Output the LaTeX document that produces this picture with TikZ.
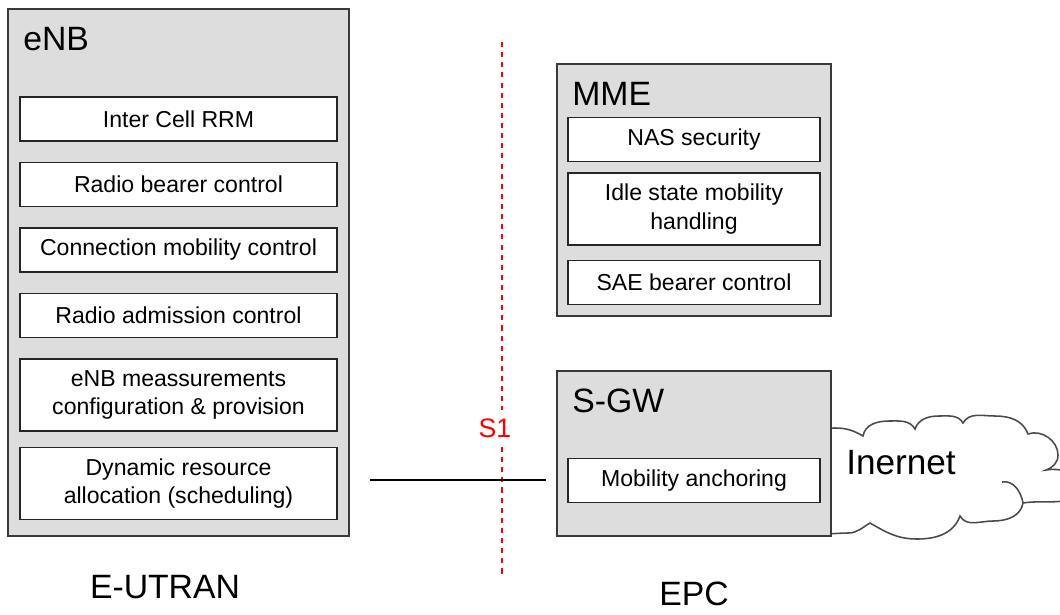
\documentclass[tikz,border=0pt]{standalone}
\usepackage{fontspec}
\setmainfont{Liberation Sans}
\definecolor{boxgray}{HTML}{DDDDDD}
\definecolor{edgegray}{HTML}{3A3A3A}
\definecolor{cloudgray}{HTML}{4A4A4A}
\tikzset{
  unitbox/.style={draw=edgegray, fill=boxgray, line width=1pt, inner sep=0pt},
  funcbox/.style={draw=black!85, fill=white, line width=0.8pt, inner sep=0pt,
    align=center, minimum height=1.1cm, font=\fontsize{16.4}{20}\selectfont},
  enbfunc/.style={funcbox, minimum width=7.925cm},
  mmefunc/.style={funcbox, minimum width=6.3cm},
  unitname/.style={anchor=base west, inner sep=0pt, font=\fontsize{24}{28}\selectfont},
  areaname/.style={anchor=base, inner sep=0pt, font=\fontsize{24}{28}\selectfont},
  s1line/.style={red, line width=0.9pt, dash pattern=on 3.6pt off 3.6pt},
}
\begin{document}
\begin{tikzpicture}[x=0.025cm, y=-0.025cm]
\clip (0,0) rectangle (1060,614);
\fill[white] (0,0) rectangle (1060,614);

% internet cloud, drawn first so the S-GW box hides its left end
\draw[cloudgray, line width=1.1pt, fill=white]
  (800,445) to[out=70,in=180] (835,428) to[out=0,in=150] (863,436)
  to[out=80,in=180] (889,421) to[out=0,in=120] (915,429)
  to[out=70,in=180] (939,416) to[out=0,in=120] (963,423)
  to[out=60,in=180] (995,416) to[out=0,in=110] (1028,434)
  to[out=20,in=90] (1058,455) to[out=-90,in=20] (1046,470)
  to[out=10,in=90] (1078,486) to[out=-90,in=10] (1023,503)
  to[out=-100,in=0] (993,521) to[out=180,in=-60] (960,516)
  to[out=-110,in=0] (917,539) to[out=180,in=-30] (870,523)
  to[out=-150,in=0] (848,533) to[out=180,in=-80] (800,520) -- cycle;
\draw[cloudgray, line width=1.1pt] (1002,482) to[out=10,in=100] (1023,503);
\node[anchor=base west, inner sep=0pt, font=\fontsize{25}{30}\selectfont] (inet) at (846,474) {Inernet};

% eNB
\node[unitbox, minimum width=8.525cm, minimum height=13.175cm] (enb) at (178.5,272.5) {};
\node[unitname] (enbname) at (23,50) {eNB};
\node[enbfunc] (rrm) at (178.5,119) {Inter Cell RRM};
\node[enbfunc] (rbc) at (178.5,184.5) {Radio bearer control};
\node[enbfunc] (cmc) at (178.5,250) {Connection mobility control};
\node[enbfunc] (rac) at (178.5,315.5) {Radio admission control};
\node[enbfunc, minimum height=1.8cm] (meas) at (178.5,395) {eNB meassurements\\configuration \& provision};
\node[enbfunc, minimum height=1.8cm] (sched) at (178.5,483.5) {Dynamic resource\\allocation (scheduling)};

% MME
\node[unitbox, minimum width=6.85cm, minimum height=6.3cm] (mme) at (694,190) {};
\node[unitname] (mmename) at (572,105) {MME};
\node[mmefunc] (nas) at (694,139.5) {NAS security};
\node[mmefunc, minimum height=1.8cm] (idle) at (694,209) {Idle state mobility\\handling};
\node[mmefunc] (sae) at (694,282.5) {SAE bearer control};

% S-GW
\node[unitbox, minimum width=6.85cm, minimum height=4.125cm] (sgw) at (694,453.5) {};
\node[unitname] (sgwname) at (572,412) {S-GW};
\node[mmefunc] (anchor) at (694,480.5) {Mobility anchoring};

% S1 interface
\coordinate (s1top) at (502,42);
\coordinate (s1bot) at (502,575);
\draw[s1line] (s1top) -- (s1bot);
\node[fill=white, text=red, inner xsep=2pt, inner ysep=6pt, font=\fontsize{19}{22}\selectfont] (s1) at (495,428) {S1};
\coordinate (linkl) at (370,480);
\coordinate (linkr) at (546,480);
\draw[line width=0.8pt] (linkl) -- (linkr);

\node[areaname] (eutran) at (165,598) {E-UTRAN};
\node[areaname] (epc) at (694,605) {EPC};
\end{tikzpicture}
\end{document}
